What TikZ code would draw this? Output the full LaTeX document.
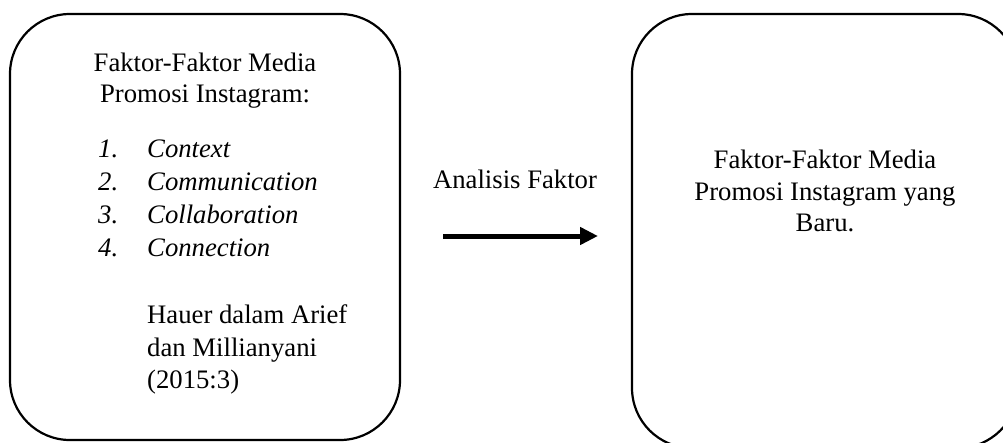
\documentclass[tikz,border=0pt]{standalone}
\usepackage{fontspec}
\setmainfont{Liberation Serif}
\usetikzlibrary{arrows.meta}
\begin{document}
\begin{tikzpicture}[x=1pt,y=-1pt,
  frame/.style={draw=black,line width=2.2pt,rounded corners=60pt,fill=none},
  txt/.style={inner sep=0pt,font=\fontsize{26.7}{31}\selectfont},
  itm/.style={txt,anchor=base west,font=\fontsize{26.7}{31}\selectfont\itshape},
  flow/.style={line width=5pt,-{Triangle[length=18pt,width=17pt]}}]
\useasboundingbox (0,0) rectangle (1003,442);
\clip (0,0) rectangle (1003,442);
% boxes
\draw[frame] (10,14) rectangle (400,440);
\coordinate (leftbox) at (205,227);
\draw[frame] (632,14) rectangle (1018,448);
\coordinate (rightbox) at (825,231);
% left box text
\node[txt,anchor=base] (l1) at (205,71) {Faktor-Faktor Media};
\node[txt,anchor=base] (l2) at (205,102) {Promosi Instagram:};
\node[itm] (n1) at (98,157) {1.};
\node[itm] (i1) at (147,157) {Context};
\node[itm] (n2) at (98,190) {2.};
\node[itm] (i2) at (147,190) {Communication};
\node[itm] (n3) at (98,223) {3.};
\node[itm] (i3) at (147,223) {Collaboration};
\node[itm] (n4) at (98,256) {4.};
\node[itm] (i4) at (147,256) {Connection};
\node[txt,anchor=base west] (h1) at (147,323) {Hauer dalam Arief};
\node[txt,anchor=base west] (h2) at (147,356) {dan Millianyani};
\node[txt,anchor=base west] (h3) at (147,388) {(2015:3)};
% right box text
\node[txt,anchor=base] (r1) at (825,168) {Faktor-Faktor Media};
\node[txt,anchor=base] (r2) at (825,200) {Promosi Instagram yang};
\node[txt,anchor=base] (r3) at (825,231) {Baru.};
% arrow
\node[txt,anchor=base] (lab) at (515,188) {Analisis Faktor};
\coordinate (astart) at (443,236);
\coordinate (aend) at (598,236);
\draw[flow] (astart) -- (aend);
\end{tikzpicture}
\end{document}
